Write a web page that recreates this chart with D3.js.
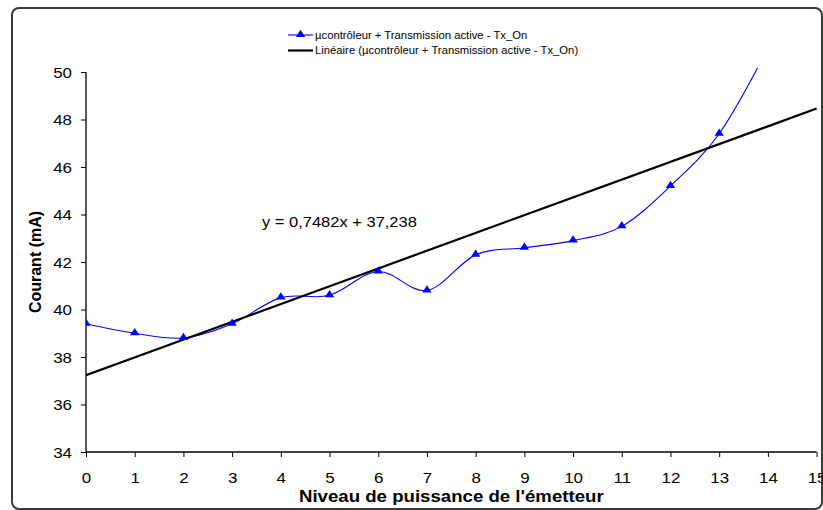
<!DOCTYPE html>
<html>
<head>
<meta charset="utf-8">
<script src="https://cdn.jsdelivr.net/npm/d3@7"></script>
<style>
  html, body { margin: 0; padding: 0; background: #fff; }
  svg { display: block; font-family: Arial, "Liberation Sans", sans-serif; }
</style>
</head>
<body>
<svg id="chart" width="823" height="510"></svg>
<script>
// Power level of the transmitter (x) and measured current in mA (y)
const niveaux = [0, 1, 2, 3, 4, 5, 6, 7, 8, 9, 10, 11, 12, 13, 14];
const courant = [39.4, 39.0, 38.8, 39.4, 40.5, 40.6, 41.6, 40.8, 42.3, 42.6, 42.9, 43.5, 45.2, 47.4, 51.0];

// Linear trend: y = 0,7482x + 37,238
const pente = 0.7482;
const ordonnee = 37.238;

const xTicks = [0, 1, 2, 3, 4, 5, 6, 7, 8, 9, 10, 11, 12, 13, 14, 15];
const yTicks = [34, 36, 38, 40, 42, 44, 46, 48, 50];

const serieNom = "µcontrôleur + Transmission active - Tx_On";
const tendanceNom = "Linéaire (µcontrôleur + Transmission active - Tx_On)";
const equation = "y = 0,7482x + 37,238";

const svg = d3.select("#chart");
const plot = { left: 86, right: 816.6, top: 72, bottom: 452 };
// The whole chart is drawn slightly wide: glyphs are stretched horizontally
const STRETCH = 1.13;

const x = d3.scaleLinear().domain([0, 15]).range([plot.left, plot.right]);
const y = d3.scaleLinear().domain([34, 50]).range([plot.bottom, plot.top]);

// Places a horizontally stretched text with its anchor at (px, py)
function wideText(parent, px, py, str, size, anchor, weight) {
  return parent.append("text")
    .attr("transform", `translate(${px},${py}) scale(${STRETCH},1)`)
    .attr("text-anchor", anchor || "start")
    .style("font-size", size + "px")
    .style("font-weight", weight || "normal")
    .attr("fill", "#000")
    .text(str);
}

// Chart frame with rounded corners
svg.append("rect")
  .attr("x", 12).attr("y", 8)
  .attr("width", 810).attr("height", 501)
  .attr("rx", 7).attr("ry", 7)
  .attr("fill", "#fff")
  .attr("stroke", "#3a3a3a")
  .attr("stroke-width", 2);

// Clip for the plotted marks
svg.append("clipPath").attr("id", "zone")
  .append("rect")
  .attr("x", plot.left).attr("y", plot.top - 4)
  .attr("width", plot.right - plot.left + 2)
  .attr("height", plot.bottom - plot.top + 4);

// Axes
const xAxis = svg.append("g")
  .attr("transform", `translate(0,${plot.bottom})`)
  .call(d3.axisBottom(x).tickValues(xTicks).tickSize(5).tickFormat(d3.format("d")));
const yAxis = svg.append("g")
  .attr("transform", `translate(${plot.left},0)`)
  .call(d3.axisLeft(y).tickValues(yTicks).tickSize(5).tickFormat(d3.format("d")));

xAxis.select(".domain").attr("d", `M${plot.left},0H${plot.right}`);
yAxis.select(".domain").attr("d", `M0,${plot.bottom}V${plot.top}`);
[xAxis, yAxis].forEach(g => {
  g.select(".domain").attr("stroke", "#000").attr("stroke-width", 1.3);
  g.selectAll(".tick line").attr("stroke", "#000").attr("stroke-width", 1);
  g.selectAll(".tick text")
    .attr("fill", "#000")
    .style("font-size", "15px")
    .style("font-family", "Arial, 'Liberation Sans', sans-serif");
});
xAxis.selectAll(".tick text")
  .attr("y", null).attr("dy", null)
  .attr("transform", `translate(0,31) scale(${STRETCH},1)`);
yAxis.selectAll(".tick text")
  .attr("x", null).attr("dy", null)
  .attr("transform", `translate(-14,5.4) scale(${STRETCH},1)`);

// Axis titles
wideText(svg, (plot.left + plot.right) / 2, 502, "Niveau de puissance de l'émetteur", 16.5, "middle", "bold");

svg.append("text")
  .attr("transform", `translate(41,${(plot.top + plot.bottom) / 2}) rotate(-90)`)
  .attr("text-anchor", "middle")
  .style("font-size", "16px").style("font-weight", "bold")
  .text("Courant (mA)");

const marks = svg.append("g").attr("clip-path", "url(#zone)");

// Smoothed measurement curve
const pts = niveaux.map((n, i) => [n, courant[i]]);
marks.append("path")
  .datum(pts)
  .attr("fill", "none")
  .attr("stroke", "#0000ff")
  .attr("stroke-width", 1.1)
  .attr("d", d3.line().x(d => x(d[0])).y(d => y(d[1])).curve(d3.curveCardinal.tension(0)));

// Linear trend line over the full axis
const trend = [0, 15].map(v => [v, pente * v + ordonnee]);
marks.append("path")
  .datum(trend)
  .attr("fill", "none")
  .attr("stroke", "#000")
  .attr("stroke-width", 2.2)
  .attr("d", d3.line().x(d => x(d[0])).y(d => y(d[1])));

// Triangle markers
const tri = d3.symbol().type(d3.symbolTriangle).size(30);
marks.selectAll(".pt")
  .data(pts.filter(d => d[1] <= 50))
  .join("path")
  .attr("class", "pt")
  .attr("transform", d => `translate(${x(d[0])},${y(d[1]) - 0.5}) scale(${STRETCH},1)`)
  .attr("d", tri)
  .attr("fill", "#0000ff");

// Trend equation
wideText(svg, 262, 227, equation, 14.6);

// Legend
const leg = svg.append("g");
const entries = [
  { label: serieNom, color: "#0000ff", width: 1.1, marker: true, y: 35 },
  { label: tendanceNom, color: "#000", width: 2.2, marker: false, y: 50.5 }
];
entries.forEach(e => {
  leg.append("line")
    .attr("x1", 288).attr("x2", 313)
    .attr("y1", e.y).attr("y2", e.y)
    .attr("stroke", e.color).attr("stroke-width", e.width);
  if (e.marker) {
    leg.append("path")
      .attr("transform", `translate(300.5,${e.y - 0.5}) scale(${STRETCH},1)`)
      .attr("d", tri).attr("fill", e.color);
  }
  wideText(leg, 315, e.y + 3.6, e.label, 10);
});
</script>
</body>
</html>
